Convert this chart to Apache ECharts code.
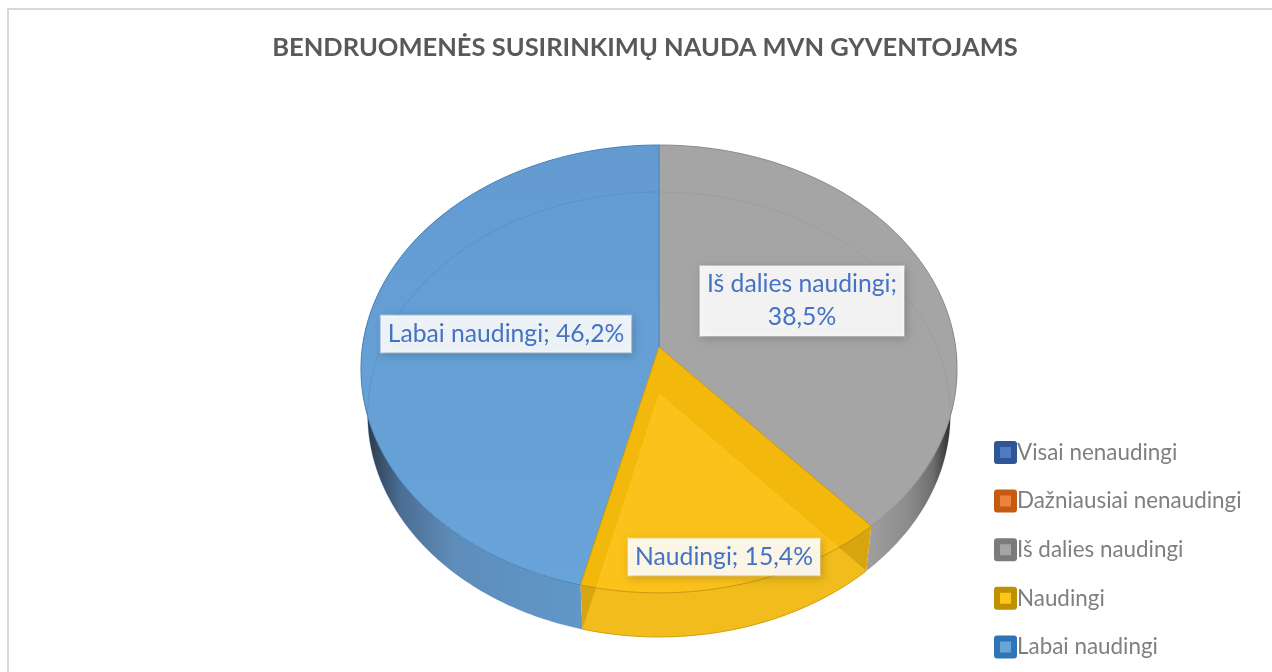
<!DOCTYPE html>
<html>
<head>
<meta charset="utf-8">
<style>
  html, body { margin: 0; padding: 0; background: #fff; }
  #chart { width: 1272px; height: 672px; }
</style>
<script src="https://cdn.jsdelivr.net/npm/echarts@6/dist/echarts.min.js"></script>
</head>
<body>
<div id="chart"></div>
<script>
const titleText = 'BENDRUOMENĖS SUSIRINKIMŲ NAUDA MVN GYVENTOJAMS'
const categories = ['Visai nenaudingi', 'Dažniausiai nenaudingi', 'Iš dalies naudingi', 'Naudingi', 'Labai naudingi']
const values = [0, 0, 38.5, 15.4, 46.2]

const legendFill = ['#4f7ac4', '#ed8240', '#a5a5a5', '#ffc41a', '#6aa3d8']
const legendEdge = ['#2f5597', '#c55a11', '#7b7b7b', '#bf9000', '#2e75b6']

// tilted pie: rim of the top and bottom face, both seen with a little perspective
const topFace = { cx: 659, cy: 347, a: 296.6, b: 221.8, k: 0.098 }
const bottomFace = { cx: 659, cy: 393, a: 290, b: 220.4, k: 0.0966 }

const sliceStyles = {
  'Iš dalies naudingi': {
    z: 2,
    top: '#a5a5a5',
    line: '#8d8d8d',
    inner: 'rgba(120,120,120,0.16)',
    wall: { type: 'linear', x: 866, y: 0, x2: 950, y2: 0, global: true, colorStops: [
      { offset: 0, color: '#a0a0a0' }, { offset: 0.5, color: '#8c8c8c' }, { offset: 0.8, color: '#6e6e6e' }, { offset: 1, color: '#2e2e2e' }
    ] }
  },
  'Labai naudingi': {
    z: 3,
    top: { type: 'linear', x: 0, y: 145, x2: 0, y2: 590, global: true, colorStops: [
      { offset: 0, color: '#639bd1' }, { offset: 1, color: '#68a4d9' }
    ] },
    line: '#4a84bd',
    inner: 'rgba(60,120,185,0.3)',
    wall: { type: 'linear', x: 368, y: 0, x2: 582, y2: 0, global: true, colorStops: [
      { offset: 0, color: '#2c3c4c' }, { offset: 0.15, color: '#4a6d93' }, { offset: 0.4, color: '#5e8db9' }, { offset: 1, color: '#6098c9' }
    ] }
  },
  'Naudingi': {
    z: 4,
    top: '#f2b80c',
    line: '#d3a10e',
    wall: '#d6a510',
    overlay: 'rgba(255,200,36,0.65)'
  }
}

const labelCenters = {
  'Iš dalies naudingi': [802, 301],
  'Naudingi': [724, 557],
  'Labai naudingi': [506, 334]
}

const total = values.reduce((sum, v) => sum + v, 0)

function rimPoint (face, angle) {
  const u = Math.sin(angle)
  const v = -Math.cos(angle)
  const w = 1 - face.k * v
  return [face.cx + face.a * u / w, face.cy + face.b * v / w]
}

function rimArc (face, from, to) {
  const steps = Math.max(2, Math.ceil((to - from) / 0.01))
  const pts = []
  for (let i = 0; i <= steps; i++) pts.push(rimPoint(face, from + (to - from) * i / steps))
  return pts
}

function renderSlice (params, api) {
  const idx = params.seriesIndex
  const value = api.value(0)
  if (!value) return null
  const name = categories[idx]
  const st = sliceStyles[name]
  const before = values.slice(0, idx).reduce((sum, v) => sum + v, 0)
  const from = before / total * Math.PI * 2
  const to = (before + value) / total * Math.PI * 2

  const topArc = rimArc(topFace, from, to)
  const bottomArc = rimArc(bottomFace, from, to)
  const topApex = [topFace.cx, topFace.cy]
  const bottomApex = [bottomFace.cx, bottomFace.cy]
  const children = []

  children.push({
    type: 'polygon',
    shape: { points: topArc.concat(bottomArc.slice().reverse()) },
    style: { fill: st.wall }
  })
  children.push({
    type: 'polygon',
    shape: { points: [topApex].concat(topArc) },
    style: { fill: st.top, stroke: st.line, lineWidth: 1 }
  })
  if (st.overlay) {
    children.push({
      type: 'polygon',
      shape: { points: [bottomApex].concat(bottomArc) },
      style: { fill: st.overlay }
    })
    children.push({
      type: 'polyline',
      shape: { points: topArc },
      style: { fill: null, stroke: 'rgba(190,140,10,0.7)', lineWidth: 1 }
    })
    children.push({
      type: 'polyline',
      shape: { points: bottomArc },
      style: { fill: null, stroke: st.line, lineWidth: 1 }
    })
  }
  if (st.inner) {
    children.push({
      type: 'polyline',
      shape: { points: bottomArc },
      style: { fill: null, stroke: st.inner, lineWidth: 1 }
    })
  }

  const pct = String(value).replace('.', ',') + '%'
  const labelText = name === 'Iš dalies naudingi' ? name + ';\n' + pct : name + '; ' + pct
  const c = labelCenters[name]
  children.push({
    type: 'text',
    z2: 10,
    style: {
      x: c[0],
      y: c[1],
      text: labelText,
      align: 'center',
      verticalAlign: 'middle',
      fill: '#4472c4',
      font: '24.7px Lato',
      lineHeight: 33,
      padding: [4, 7, 0, 7],
      backgroundColor: 'rgba(255,255,255,0.89)',
      borderColor: 'rgba(255,255,255,0.4)',
      borderWidth: 1,
      shadowColor: 'rgba(0,0,0,0.2)',
      shadowBlur: 8,
      shadowOffsetX: 2,
      shadowOffsetY: 2
    }
  })

  return { type: 'group', children }
}

const chart = echarts.init(document.getElementById('chart'))

chart.setOption({
  animation: false,
  backgroundColor: '#fff',
  title: {
    text: titleText,
    left: 640,
    top: 30,
    textAlign: 'center',
    textStyle: { color: '#595959', fontFamily: 'Lato', fontWeight: 'bold', fontSize: 25.5 }
  },
  legend: {
    orient: 'vertical',
    left: 989,
    top: 436,
    itemWidth: 17,
    itemHeight: 17,
    itemGap: 25.6,
    selectedMode: false,
    icon: 'rect',
    textStyle: { color: '#7f7f7f', fontFamily: 'Lato', fontSize: 22.4, padding: [0, 0, 0, -2] },
    data: categories.map((name, i) => ({
      name,
      itemStyle: { color: legendFill[i], borderColor: legendEdge[i], borderWidth: 6, borderJoin: 'round' }
    }))
  },
  graphic: [{
    type: 'rect',
    silent: true,
    z: -1,
    shape: { x: 8, y: 9, width: 1300, height: 700 },
    style: { fill: '#fff', stroke: '#d9d9d9', lineWidth: 2 }
  }],
  series: categories.map((name, i) => ({
    type: 'custom',
    name,
    coordinateSystem: 'none',
    silent: true,
    z: sliceStyles[name] ? sliceStyles[name].z : 1,
    renderItem: renderSlice,
    data: [[values[i]]]
  }))
})
</script>
</body>
</html>
